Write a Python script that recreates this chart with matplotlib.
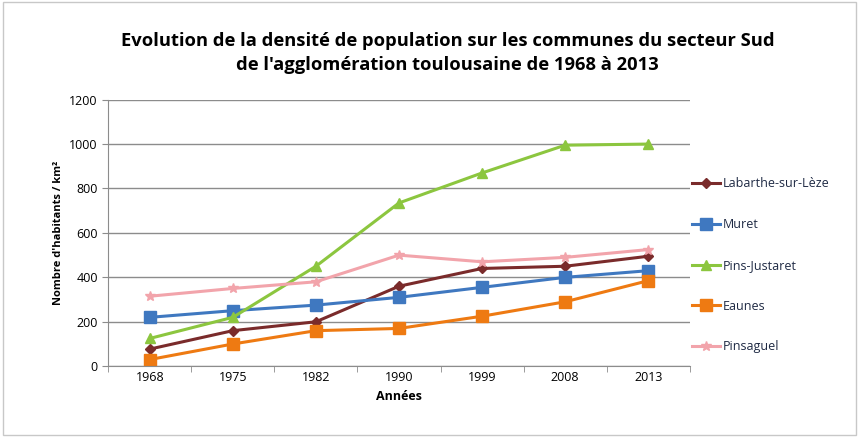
import matplotlib.pyplot as plt
from matplotlib.patches import Rectangle

annees = ['1968', '1975', '1982', '1990', '1999', '2008', '2013']

labarthe = [77, 160, 200, 360, 440, 450, 495]
muret = [220, 250, 275, 310, 355, 400, 430]
pins_justaret = [125, 220, 450, 735, 870, 995, 1000]
eaunes = [30, 100, 160, 170, 225, 290, 385]
pinsaguel = [315, 350, 380, 500, 470, 490, 525]

noms = ['Labarthe-sur-Lèze', 'Muret', 'Pins-Justaret', 'Eaunes', 'Pinsaguel']
series = [labarthe, muret, pins_justaret, eaunes, pinsaguel]
couleurs = ['#7a2b2b', '#3f78c0', '#8cc63f', '#ee7a12', '#f2a4ab']
marqueurs = ['D', 's', '^', 's', '*']
tailles = [5, 8, 7, 8, 7]

plt.rcParams['font.family'] = ['Open Sans', 'DejaVu Sans']

fig = plt.figure(figsize=(8.59, 4.37), dpi=100)
fig.patches.append(Rectangle((0.003, 0.005), 0.994, 0.99, transform=fig.transFigure,
                             fill=False, edgecolor='#c8c8c8', lw=1))
ax = fig.add_axes([0.126, 0.162, 0.677, 0.61])

x = range(len(annees))
for nom, vals, c, m, s in zip(noms, series, couleurs, marqueurs, tailles):
    ax.plot(x, vals, color=c, marker=m, markersize=s, lw=2.2, label=nom)

ax.set_xlim(-0.5, len(annees) - 0.5)
ax.set_ylim(0, 1200)
ax.set_yticks(range(0, 1201, 200))
ax.set_xticks(list(x))
ax.set_xticklabels(annees)
ax.yaxis.grid(True, color='#8c8c8c', lw=1)
ax.set_axisbelow(True)
for sp in ['top', 'right']:
    ax.spines[sp].set_visible(False)
ax.spines['left'].set_color('#8c8c8c')
ax.spines['bottom'].set_color('#8c8c8c')
ax.tick_params(labelsize=9, color='#8c8c8c', length=4)
ax.set_xticks([i + 0.5 for i in range(-1, len(annees))], minor=True)
ax.tick_params(axis='x', which='major', length=0)
ax.tick_params(axis='x', which='minor', length=4, color='#8c8c8c')

ax.set_xlabel('Années', fontsize=9, fontweight='bold')
ax.set_ylabel("Nombre d'habitants / km²", fontsize=8, fontweight='bold')

fig.text(0.521, 0.879, "Evolution de la densité de population sur les communes du secteur Sud\n"
         "de l'agglomération toulousaine de 1968 à 2013",
         ha='center', va='center', fontsize=13.2, fontweight='bold', linespacing=1.38)

leg = ax.legend(loc='center left', bbox_to_anchor=(0.985, 0.378), frameon=False,
                fontsize=9, labelspacing=2.22, handlelength=2.2, handletextpad=0.2)
for t in leg.get_texts():
    t.set_color('#1f2a44')

fig.savefig('out.png', dpi=100)
